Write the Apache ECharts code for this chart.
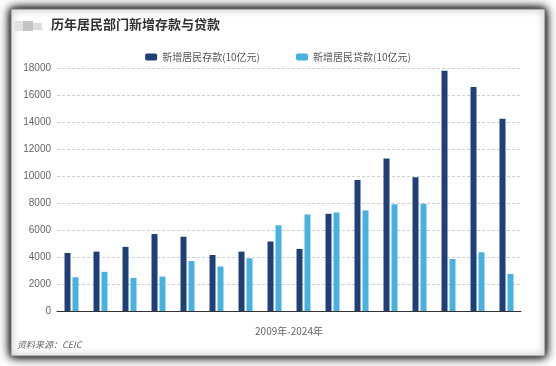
<!DOCTYPE html>
<html><head><meta charset="utf-8">
<script src="https://cdn.jsdelivr.net/npm/echarts@6/dist/echarts.min.js"></script>
<style>html,body{margin:0;padding:0;background:#fff;}#c{width:556px;height:366px;}</style>
</head><body><div id="c"></div>
<script>
const years = ['2009','2010','2011','2012','2013','2014','2015','2016','2017','2018','2019','2020','2021','2022','2023','2024'];
const deposits = [4300,4400,4750,5700,5500,4150,4400,5150,4600,7200,9700,11300,9900,17800,16600,14250];
const loans = [2500,2900,2450,2550,3700,3300,3900,6350,7150,7300,7450,7900,7950,3850,4350,2750];
const seriesNames = ['新增居民存款(10亿元)','新增居民贷款(10亿元)'];
const yTicks = {min:0, max:18000, interval:2000};

const chart = echarts.init(document.getElementById('c'));
chart.setOption({
  animation:false,
  backgroundColor:'#ffffff',
  graphic:[
    {type:'rect', z:-12, shape:{x:11,y:9,width:534,height:347},
     style:{fill:'#fff', shadowBlur:12, shadowColor:'rgba(0,0,0,0.95)'}},
    {type:'rect', z:-11, shape:{x:11,y:9,width:534,height:347},
     style:{fill:'#fff', stroke:'#777', lineWidth:1, shadowBlur:7, shadowColor:'rgba(0,0,0,0.9)'}},
    {type:'rect', shape:{x:14,y:21,width:9,height:10}, style:{fill:'#e2e2e2'}},
    {type:'rect', shape:{x:23,y:21,width:10,height:10}, style:{fill:'#c4c4c4'}},
    {type:'rect', shape:{x:33,y:23,width:9,height:7}, style:{fill:'#dedede'}},
    {type:'text', left:51, top:18, style:{text:'历年居民部门新增存款与贷款', fill:'#333', font:'bold 13px "Noto Sans CJK SC"'}},
    {type:'text', left:17, top:340, style:{text:'资料来源：CEIC', fill:'#666', font:'italic 9px "Noto Sans CJK SC"'}}
  ],
  legend:{
    top:47, left:'center', itemWidth:12, itemHeight:7, itemGap:36,
    textStyle:{color:'#555', fontSize:10, fontFamily:'"Noto Sans CJK SC"'},
    data:seriesNames
  },
  grid:{left:57, right:35, top:68, bottom:55},
  xAxis:{
    type:'category', data:years,
    axisLine:{lineStyle:{color:'#333', width:1}},
    axisTick:{show:false}, axisLabel:{show:false},
    name:'2009年-2024年', nameLocation:'middle', nameGap:15,
    nameTextStyle:{color:'#666', fontSize:10, fontFamily:'"Noto Sans CJK SC"'}
  },
  yAxis:{
    type:'value', min:yTicks.min, max:yTicks.max, interval:yTicks.interval,
    axisLine:{show:false}, axisTick:{show:false},
    axisLabel:{color:'#666', fontSize:10, margin:6, fontFamily:'Arial, "Liberation Sans"', formatter:function(v){return String(v);}},
    splitLine:{lineStyle:{color:'#cfcfcf', type:[3,2], width:1}}
  },
  series:[
    {name:seriesNames[0], type:'bar', data:deposits, barWidth:6, barGap:'33%', itemStyle:{color:'#203f78'}},
    {name:seriesNames[1], type:'bar', data:loans, barWidth:6, itemStyle:{color:'#47b1e0'}}
  ]
});
</script></body></html>
